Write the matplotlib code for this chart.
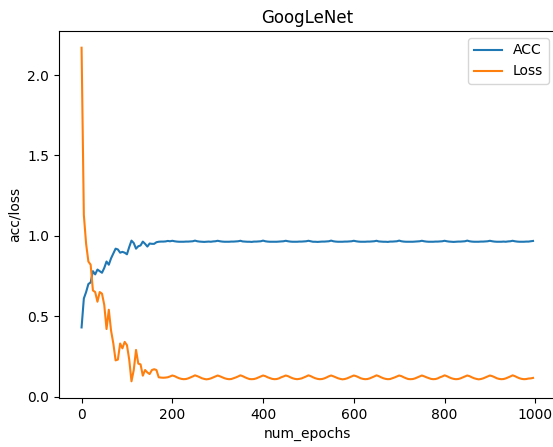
import matplotlib
matplotlib.use("Agg")
import matplotlib.pyplot as plt

epochs = list(range(0, 1000, 5))

acc = [
    0.43, 0.61, 0.65, 0.70, 0.71, 0.78, 0.76, 0.79, 0.78, 0.77,
    0.80, 0.84, 0.82, 0.86, 0.89, 0.92, 0.915, 0.895, 0.90, 0.895,
    0.885, 0.93, 0.97, 0.955, 0.92, 0.935, 0.94, 0.964, 0.95, 0.933,
    0.952, 0.95, 0.95, 0.96, 0.963, 0.964, 0.964, 0.965, 0.968, 0.966,
    # 200 - 395
    0.969, 0.966, 0.964, 0.963, 0.963, 0.963, 0.964, 0.964, 0.965, 0.966,
    0.970, 0.966, 0.964, 0.963, 0.962, 0.963, 0.964, 0.963, 0.965, 0.966,
    0.969, 0.966, 0.964, 0.963, 0.963, 0.963, 0.964, 0.964, 0.965, 0.966,
    0.969, 0.965, 0.964, 0.963, 0.963, 0.962, 0.964, 0.964, 0.965, 0.966,
    # 400 - 595
    0.970, 0.966, 0.964, 0.963, 0.963, 0.963, 0.963, 0.964, 0.965, 0.966,
    0.969, 0.966, 0.964, 0.963, 0.963, 0.963, 0.964, 0.964, 0.965, 0.966,
    0.969, 0.966, 0.963, 0.963, 0.962, 0.963, 0.964, 0.964, 0.965, 0.966,
    0.970, 0.966, 0.964, 0.963, 0.963, 0.963, 0.964, 0.964, 0.965, 0.966,
    # 600 - 795
    0.969, 0.966, 0.964, 0.963, 0.963, 0.963, 0.964, 0.964, 0.965, 0.966,
    0.969, 0.965, 0.964, 0.963, 0.963, 0.962, 0.964, 0.964, 0.965, 0.966,
    0.970, 0.966, 0.964, 0.963, 0.963, 0.963, 0.963, 0.964, 0.965, 0.966,
    0.969, 0.966, 0.964, 0.963, 0.963, 0.963, 0.964, 0.964, 0.965, 0.966,
    # 800 - 995
    0.969, 0.966, 0.964, 0.963, 0.962, 0.963, 0.964, 0.964, 0.965, 0.966,
    0.970, 0.966, 0.964, 0.963, 0.963, 0.963, 0.964, 0.964, 0.965, 0.966,
    0.969, 0.966, 0.964, 0.963, 0.963, 0.963, 0.964, 0.963, 0.965, 0.966,
    0.969, 0.966, 0.964, 0.963, 0.963, 0.963, 0.964, 0.964, 0.966, 0.968,
]

loss = [
    2.17, 1.13, 0.95, 0.84, 0.82, 0.66, 0.65, 0.59, 0.65, 0.64,
    0.57, 0.42, 0.54, 0.41, 0.33, 0.225, 0.23, 0.33, 0.30, 0.34,
    0.32, 0.23, 0.095, 0.165, 0.29, 0.205, 0.20, 0.13, 0.165, 0.15,
    0.14, 0.165, 0.17, 0.165, 0.12, 0.118, 0.117, 0.118, 0.12, 0.125,
    # 200 - 395
    0.131, 0.127, 0.120, 0.114, 0.110, 0.108, 0.109, 0.113, 0.119, 0.125,
    0.132, 0.127, 0.121, 0.114, 0.110, 0.107, 0.109, 0.113, 0.119, 0.125,
    0.131, 0.126, 0.120, 0.114, 0.110, 0.108, 0.109, 0.114, 0.119, 0.125,
    0.132, 0.127, 0.120, 0.114, 0.109, 0.108, 0.109, 0.113, 0.119, 0.125,
    # 400 - 595
    0.131, 0.127, 0.120, 0.115, 0.110, 0.108, 0.109, 0.113, 0.120, 0.125,
    0.131, 0.127, 0.120, 0.114, 0.110, 0.108, 0.110, 0.113, 0.119, 0.125,
    0.132, 0.127, 0.120, 0.114, 0.110, 0.108, 0.109, 0.113, 0.119, 0.126,
    0.131, 0.126, 0.120, 0.114, 0.110, 0.107, 0.109, 0.113, 0.119, 0.125,
    # 600 - 795
    0.131, 0.127, 0.121, 0.114, 0.110, 0.108, 0.109, 0.113, 0.119, 0.125,
    0.132, 0.127, 0.120, 0.114, 0.110, 0.108, 0.109, 0.114, 0.119, 0.125,
    0.131, 0.127, 0.120, 0.114, 0.109, 0.108, 0.109, 0.113, 0.119, 0.125,
    0.131, 0.126, 0.120, 0.115, 0.110, 0.108, 0.109, 0.113, 0.120, 0.125,
    # 800 - 995
    0.132, 0.127, 0.120, 0.114, 0.110, 0.108, 0.109, 0.113, 0.119, 0.125,
    0.131, 0.127, 0.120, 0.114, 0.110, 0.107, 0.109, 0.113, 0.119, 0.125,
    0.131, 0.127, 0.121, 0.114, 0.110, 0.108, 0.109, 0.113, 0.119, 0.125,
    0.132, 0.127, 0.120, 0.114, 0.110, 0.108, 0.109, 0.112, 0.113, 0.116,
]

W, H = 553, 447
fig = plt.figure(figsize=(W / 100, H / 100), dpi=100)
left, right, top, bottom = 59, 555.6, 31, 398
ax = fig.add_axes([left / W, (H - bottom) / H, (right - left) / W, (bottom - top) / H])

ax.plot(epochs, acc, color="#1f77b4", linewidth=1.5, label="ACC")
ax.plot(epochs, loss, color="#ff7f0e", linewidth=1.5, label="Loss")
ax.set_xlim(-49.75, 1044.75)
ax.set_ylim(-0.009, 2.274)
ax.set_xticks([0, 200, 400, 600, 800, 1000])
ax.set_yticks([0.0, 0.5, 1.0, 1.5, 2.0])
ax.set_title("GoogLeNet")
ax.set_xlabel("num_epochs")
ax.set_ylabel("acc/loss")
ax.legend(loc="upper right")

fig.savefig("out.png", dpi=100)
